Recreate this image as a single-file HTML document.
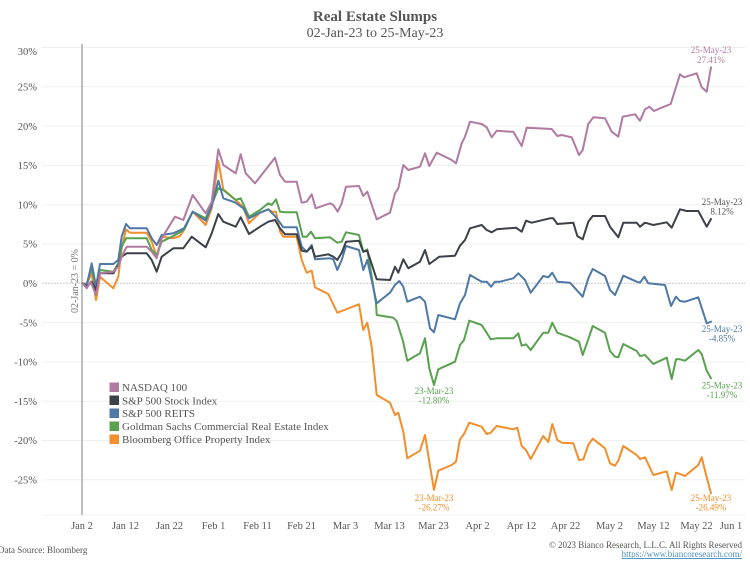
<!DOCTYPE html>
<html>
<head>
<meta charset="utf-8">
<style>
html,body{margin:0;padding:0;background:#fff;}
svg{display:block;}
text{font-family:"Liberation Serif",serif;}
</style>
</head>
<body>
<svg width="750" height="566" viewBox="0 0 750 566" xmlns="http://www.w3.org/2000/svg">
<rect width="750" height="566" fill="#fff"/>
<!-- Title -->
<text x="375" y="21" text-anchor="middle" font-size="15" font-weight="bold" fill="#555">Real Estate Slumps</text>
<text x="375" y="37" text-anchor="middle" font-size="14" fill="#555">02-Jan-23 to 25-May-23</text>

<!-- gridlines -->
<g stroke="#f0f0f0" stroke-width="1">
<line x1="42" x2="745" y1="47.5" y2="47.5"/>
<line x1="42" x2="745" y1="86.8" y2="86.8"/>
<line x1="42" x2="745" y1="126.1" y2="126.1"/>
<line x1="42" x2="745" y1="165.4" y2="165.4"/>
<line x1="42" x2="745" y1="204.7" y2="204.7"/>
<line x1="42" x2="745" y1="244" y2="244"/>
<line x1="42" x2="745" y1="322.6" y2="322.6"/>
<line x1="42" x2="745" y1="361.9" y2="361.9"/>
<line x1="42" x2="745" y1="401.2" y2="401.2"/>
<line x1="42" x2="745" y1="440.5" y2="440.5"/>
<line x1="42" x2="745" y1="479.8" y2="479.8"/>
<line x1="42" x2="745" y1="515" y2="515"/>
</g>
<line x1="42" x2="745" y1="283.3" y2="283.3" stroke="#c8c8c8" stroke-width="1" stroke-dasharray="2,1"/>

<!-- y labels -->
<g font-size="10.5" fill="#555" text-anchor="end">
<text x="37" y="55">30%</text>
<text x="37" y="90.5">25%</text>
<text x="37" y="129.8">20%</text>
<text x="37" y="169.1">15%</text>
<text x="37" y="208.4">10%</text>
<text x="37" y="247.7">5%</text>
<text x="37" y="287">0%</text>
<text x="37" y="326.3">-5%</text>
<text x="37" y="365.6">-10%</text>
<text x="37" y="404.9">-15%</text>
<text x="37" y="444.2">-20%</text>
<text x="37" y="483.5">-25%</text>
</g>

<!-- vertical reference line -->
<line x1="82" x2="82" y1="44" y2="515" stroke="#a8a8a8" stroke-width="1.5"/>
<text transform="translate(78,281) rotate(-90)" text-anchor="middle" font-size="10" fill="#777">02-Jan-23 = 0%</text>

<!-- x labels -->
<g font-size="10.5" fill="#555" text-anchor="middle">
<text x="82" y="529">Jan 2</text>
<text x="125.5" y="529">Jan 12</text>
<text x="169.5" y="529">Jan 22</text>
<text x="213.5" y="529">Feb 1</text>
<text x="257.5" y="529">Feb 11</text>
<text x="301.5" y="529">Feb 21</text>
<text x="345.5" y="529">Mar 3</text>
<text x="389.5" y="529">Mar 13</text>
<text x="433.5" y="529">Mar 23</text>
<text x="477.5" y="529">Apr 2</text>
<text x="521.5" y="529">Apr 12</text>
<text x="565.5" y="529">Apr 22</text>
<text x="609.5" y="529">May 2</text>
<text x="653.5" y="529">May 12</text>
<text x="696.5" y="529">May 22</text>
<text x="731" y="529">Jun 1</text>
</g>

<!-- series -->
<g fill="none" stroke-width="2" stroke-linejoin="round" stroke-linecap="round">
<polyline stroke="#f28e2b" points="82.7,283.3 86.7,284 91.7,273.3 96,300 100,276.7 113.3,288.3 118.3,276.7 121.7,248.3 126,229.3 130,232.7 146.7,232.7 151.7,241.7 156.7,256.7 161.7,236.7 173.3,238.3 180,236 184,230 192.7,211.7 205.7,225 211.7,208.3 218.3,160.7 223.3,189.3 235.7,200 243.3,207.3 249,223.3 260,212.7 268.3,209.3 271.7,211.7 276,211.7 280,231.7 283.3,236.7 296.7,236.7 301.7,260 306.7,272.7 311.7,270.7 315,287.3 328.3,294 337.3,312.7 341.7,311 359,304.3 363.3,330 367.3,322.7 371.7,346.7 376.7,395 390,402.7 395,415 398.3,412.7 403.3,431.7 407.3,458.3 420,450.7 425,435 429.3,461.7 434,490 438.3,470.7 451.7,465 456,461.7 460,439.3 464,434 469.3,422.7 481.7,426.7 486.7,434 490.7,432.7 496.7,426 513.3,429.3 517.3,427.7 521.7,446 526,450 530.7,459 543.3,436 548.3,442 552.3,424 557.3,440 561.7,442.7 573.3,443.3 579,460 583.3,459.3 588.3,445 592.7,438.7 605,448.3 610,463.3 615,465.7 618.3,460.7 623.3,446 636.7,455 640,459 645,457.3 653.3,475 666.7,471.3 671.7,490 676,472.7 680,474 685,476 698.3,465 701.7,457.3 706.7,477.3 711,493.3"/>
<polyline stroke="#59a14f" points="82.7,283.3 86.7,284 91.7,268.3 96,288.3 100,270 113.3,271.7 118.3,263.3 121.7,246.7 126,238.3 146.7,238.3 151.7,250 156.7,255 161.7,241.7 173.3,236 184,230 192.7,211.7 205.7,218.3 211.7,205 218.3,188.3 223.3,190 235.7,200 240.7,198.3 249,216.7 260,210 268.3,203.3 271.7,205 276,199.3 280,211.7 285,212.3 296.7,212.3 302.7,236.7 306.7,236.7 311,231.7 315,238.3 330,237.3 337.3,242.7 341.7,241.7 346,232.3 359,235 363.3,251.7 367.3,249.3 376,303.3 376.7,315 393.3,317.7 396.7,321 402.7,340 407.3,360.7 420,353.3 425,338.3 429.3,368.3 434,385 438.3,369.3 455,361.7 460,345 464,340 469.3,320.7 481.7,325 486,331.7 490.7,339.3 496.7,338.3 513.3,338.3 518.3,333.3 521.7,345.7 526,344.3 530.7,350 543.3,332.7 548.3,332.7 552.3,322.7 557.3,332.7 570,337.3 579,341.7 582.7,355 588.3,339.3 592.7,326 605,332.7 610,351 615,356.7 618.3,357.3 623.3,344 636.7,351 640,356 645,355 653.3,364 666.7,357.7 671.7,379 676,359.3 680,359.3 685,360.7 698.3,350 701.7,354 706.7,370.7 711,378.3"/>
<polyline stroke="#4e79a7" points="82.7,283.3 86.7,285 91.7,263.3 96,286.7 100,264 113.3,264 118.3,260 121.7,236.7 126,224 130,228.3 146.7,228.3 151.7,238.3 156.7,245 161.7,235 173.3,233.3 184,228.3 192.7,211.7 205.7,220.7 211.7,206 218.3,180.7 223.3,198.3 235.7,202.7 243.3,208.3 249,218.3 260,212.7 268.3,209.3 275,216 280,222.7 283.3,227.3 296.7,227.3 301.7,246.7 306.7,251.7 311.7,245 315,259.3 330,258.3 333.3,259.3 337.3,270 341.7,260 346,246 359,250 363.3,270 367.3,260 376.7,303.3 390,292.7 395,285 399.3,281 403.3,286.7 407.3,301.7 420,296.7 425,301.7 430,328.3 434,332.3 438.3,315 455,319.3 460,303.3 465,295 470,275 481.7,281.7 486.7,281.7 491,286.7 495,281.7 500,281.7 513.3,278.3 518.3,273.3 525,280 530.7,292.7 543.3,276 548.3,277.3 552.3,272.7 557.3,281.7 570,282.7 582.7,296.7 588.3,278.3 592.7,269 605,276 610,290 615,295 623.3,275.7 636.7,281.7 640,282.7 644.3,276.7 648.3,283.3 665,285 671,306 676,296.7 680,301 685,301.7 698.3,297.3 706.7,323.3 711,321.7"/>
<polyline stroke="#3c4049" points="82.7,283.3 86.7,286.7 91.7,281.7 96,290 100,273.3 113.3,273.3 118.3,265 121.7,256.7 126.7,253.3 146.7,253.3 151.7,260 156.7,271.7 161.7,256.7 173.3,248.3 183.3,248.3 191.7,236.7 205.7,247.3 211.7,233.3 218.3,214 223.3,221.7 235.7,226.7 240.7,217.3 249,234 260,226.7 268.3,221.7 275,220 280,228.3 285,234.3 296.7,234.3 301.7,250.7 306.7,251.7 311.7,246.7 315,256.7 328.3,254.3 333.3,256.7 337.3,260 341.7,252.7 346,241.7 359,240.7 363.3,251.7 367.3,250.7 376.7,279.3 390,280 395,266.7 398.3,272.7 403.3,259.3 408.3,268.3 420,261.7 425,250 429.3,264 439.3,256.7 455,255.7 460,245.7 465,240 470,228.3 481.7,225 486.7,230 491.7,232.3 496.7,229.3 516,227.7 521.7,231.7 526,220.7 531.7,222.7 550,218.3 553.3,218.3 557.3,224 573.3,222.7 577.3,236 582.7,239.3 588.3,221.7 592.7,216 605,216 610,226.7 618.3,237.3 623.3,222.7 636.7,222.7 640,226.7 645,222.7 653.3,225 666.7,222.3 671.7,227.7 680,209.3 686.7,211 698.3,211 706.7,226.7 711,219"/>
<polyline stroke="#b07aa1" points="82.7,283.3 86.7,288.3 90.7,281.7 96,295 100,273.3 113.3,271.7 118.3,266.7 121.7,256.7 126.7,246.7 146.7,246.7 151.7,251.7 156.7,258.3 161.7,238.3 175,216.7 183.3,220 192.7,195 205.7,213.3 211.7,201.7 218.3,149.3 223.3,165 235.7,173.3 240.7,154.3 245.7,173.3 255,183.3 275,157.7 280,175 285,181.7 296.7,181.7 301.7,202.7 306.7,201.7 311.7,194.3 315.7,208.3 330,203.3 333.3,205 337.7,211.7 341.7,203.3 346,186.7 359,186 363.3,196 367.3,191.7 376.7,219.3 390,212.7 395,193.3 398.3,188.3 403.3,165 408.3,170 420,166.7 425,153.3 429.3,166 436.7,152.7 445,156.7 451.7,160 456,163.3 461.7,143.3 465,136.7 470,121.7 481.7,124 486.7,127.3 491.7,137.3 496.7,130.7 510,131.7 513.3,131.7 521.7,146 526.7,127.7 551.7,129 557.3,136 561.7,135 571.7,137.3 579,155 582.7,150 588.3,124 593.3,117.3 605,118.3 611.7,131.7 618.3,136.7 622.7,116.7 635,114.3 640,120.7 645,109.3 649.3,106.7 654,111 660,108.3 670.7,104 680,74.3 684,77.3 696.7,73.3 701.7,87.3 706.7,91.7 711,67.3"/>
</g>

<!-- annotations -->
<g font-size="9" text-anchor="middle">
<text x="711" y="53" fill="#b07aa1">25-May-23</text>
<text x="711" y="63" fill="#b07aa1">27.41%</text>
<text x="722" y="205" fill="#555">25-May-23</text>
<text x="722" y="214.5" fill="#555">8.12%</text>
<text x="722" y="332" fill="#4e79a7">25-May-23</text>
<text x="722" y="341.5" fill="#4e79a7">-4.85%</text>
<text x="722" y="388.5" fill="#59a14f">25-May-23</text>
<text x="722" y="398" fill="#59a14f">-11.97%</text>
<text x="434" y="394" fill="#59a14f">23-Mar-23</text>
<text x="434" y="403.5" fill="#59a14f">-12.80%</text>
<text x="434" y="501" fill="#f28e2b">23-Mar-23</text>
<text x="434" y="510.5" fill="#f28e2b">-26.27%</text>
<text x="711" y="501" fill="#f28e2b">25-May-23</text>
<text x="711" y="510.5" fill="#f28e2b">-26.49%</text>
</g>

<!-- legend -->
<rect x="109.5" y="382.5" width="9.5" height="9.5" fill="#b07aa1"/>
<rect x="109.5" y="395.5" width="9.5" height="9.5" fill="#3c4049"/>
<rect x="109.5" y="408.5" width="9.5" height="9.5" fill="#4e79a7"/>
<rect x="109.5" y="421.5" width="9.5" height="9.5" fill="#59a14f"/>
<rect x="109.5" y="434.5" width="9.5" height="9.5" fill="#f28e2b"/>
<g font-size="11" fill="#555">
<text x="122" y="391">NASDAQ 100</text>
<text x="122" y="404.5">S&amp;P 500 Stock Index</text>
<text x="122" y="417">S&amp;P 500 REITS</text>
<text x="122" y="430">Goldman Sachs Commercial Real Estate Index</text>
<text x="122" y="443">Bloomberg Office Property Index</text>
</g>

<!-- footer -->
<text x="-2" y="553" font-size="9" fill="#555">Data Source: Bloomberg</text>
<text x="742" y="548" font-size="9" fill="#555" text-anchor="end">© 2023 Bianco Research, L.L.C. All Rights Reserved</text>
<text x="742" y="557" font-size="9" fill="#4a8fc0" text-anchor="end" text-decoration="underline">https://www.biancoresearch.com/</text>
<line x1="627" x2="742" y1="558.5" y2="558.5" stroke="#4a8fc0" stroke-width="0.6"/>
</svg>
</body>
</html>
